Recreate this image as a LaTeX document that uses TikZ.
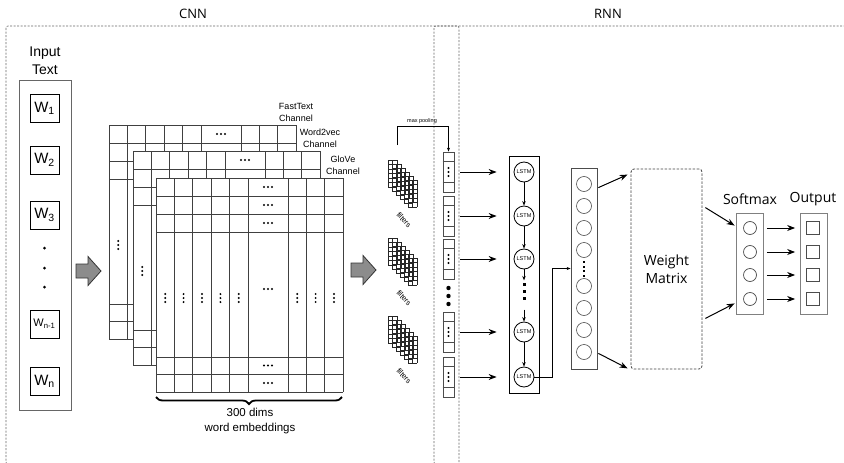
\documentclass[tikz,border=0pt]{standalone}
\usepackage{fontspec}
\setmainfont{Liberation Sans}
\newfontfamily\myriad{Open Sans}
\usetikzlibrary{positioning,arrows.meta,calc,decorations.pathreplacing}
\newcommand{\fs}[2][]{\fontsize{#2}{#2}\selectfont}
% gray block arrow: tail x, centre y
\newcommand{\blockarrow}[2]{\filldraw[draw=black!80,fill=black!45,line width=0.8pt]
  (#1,#2-7) -- ++(12,0) -- ++(0,-7.5) -- ++(13,14.5) -- ++(-13,14.5) -- ++(0,-7.5) -- ++(-12,0) -- cycle;}
\tikzset{
  frame/.style={draw=black!60,dash pattern=on 2pt off 1.5pt,line width=0.6pt,rounded corners=2pt},
  conn/.style={-{Stealth[length=8pt,width=6pt]},line width=1pt},
  sconn/.style={-{Stealth[length=4.5pt,width=3.5pt]},line width=0.7pt},
  hdots/.pic={\foreach \k in {-4,0,4} \fill (\k,0) circle (1.1);},
  vdots/.pic={\foreach \k in {-4,0,4} \fill (0,\k) circle (1.1);},
}

\begin{document}
\begin{tikzpicture}[x=1pt,y=-1pt,
   word/.style={draw,line width=0.8pt,minimum width=29pt,minimum height=28pt,inner sep=0pt},
   grd/.style={draw=black!75,line width=0.8pt},
   fgrid/.style={draw=black!85,line width=0.7pt},
   col/.style={draw=black!70,line width=0.8pt,inner sep=0pt},
   lstm/.style={draw,circle,line width=0.8pt,minimum size=20pt,inner sep=0pt,font=\fs{5.5}},
   unit/.style={draw=black!70,circle,line width=0.6pt,minimum size=15pt,inner sep=0pt},
   chl/.style={align=center,font=\fontsize{9}{12}\selectfont},
   flbl/.style={rotate=-48,font=\fs{7.5},inner sep=0pt},
   lbl/.style={font=\fs{13}\myriad}]
  \useasboundingbox (0,0) rectangle (844,463);
  % frames
  \draw[frame] (6,26) rectangle (459,464);
  \draw[frame] (434,26) rectangle (850,464);
  \node[lbl] (cnn) at (193,14) {CNN};
  \node[lbl] (rnn) at (608,14) {RNN};

  % input text
  \node[align=center,font=\fontsize{14}{18}\selectfont] (intxt) at (45,61) {Input\\Text};
  \node[draw=black!60,line width=0.8pt,minimum width=52pt,minimum height=330pt] (inbox) at (45,245) {};
  \foreach \i/\y/\t in {1/108/{W\textsubscript{1}},2/160/{W\textsubscript{2}},3/215/{W\textsubscript{3}},n/381/{W\textsubscript{n}}}
    \node[word,font=\fs{15}] (w\i) at (44.5,\y) {\t};
  \node[word,font=\fs{11}] (wm1) at (44.5,324) {W\textsubscript{n-1}};
  \foreach \y in {248,268,287} \fill (44.5,\y) circle (1.5);
  \blockarrow{76}{271}

  % embedding channels
  \foreach \L/\ox/\oy in {1/109/125,2/133/151,3/156/178}{
    \begin{scope}[shift={(\ox,\oy)}]
      \fill[white] (0,0) rectangle (187,214);
      \foreach \x in {0,18.4,36.8,55.2,73.6,92,132,150.4,168.8,187} \draw[grd] (\x,0) -- (\x,214);
      \foreach \y in {0,18,36,54,179,196.5,214} \draw[grd] (0,\y) -- (187,\y);
      \pic at (112,9) {hdots};
      \pic at (9.2,120) {vdots};
    \end{scope}
  }
  \begin{scope}[shift={(156,178)}]
    \foreach \y in {27,45,111,187.5,205} \pic at (112,\y) {hdots};
    \foreach \x in {27.6,46,64.4,82.8,141.2,159.6,178} \pic at (\x,120) {vdots};
  \end{scope}
  \node[chl] (ft) at (296,112) {FastText\\Channel};
  \node[chl] (w2v) at (320,138) {Word2vec\\Channel};
  \node[chl] (glv) at (343,165) {GloVe\\Channel};
  \draw[line width=1.8pt,decorate,decoration={brace,mirror,amplitude=7pt}] (156,397) -- (342,397);
  \node[align=center,font=\fontsize{11.5}{15}\selectfont] (dims) at (250,421) {300 dims\\word embeddings};
  \blockarrow{351}{270}

  % filters
  \foreach \g/\gy in {1/160,2/238,3/316}{
    \foreach \k in {0,...,5}{
      \foreach \c in {0,4.5,9} \draw[fgrid] (388+\k*4+\c,\gy+\k*4) -- ++(0,27);
      \foreach \r in {0,4.5,...,27} \draw[fgrid] (388+\k*4,\gy+\k*4+\r) -- ++(9,0);
    }
    \node[flbl] (f\g) at (404,\gy+60) {filters};
  }

  % pooled vectors
  \foreach \i/\y in {1/172,2/216,3/259,4/332,5/377}{
    \node[col,minimum width=11pt,minimum height=40pt] (v\i) at (448.5,\y) {};
    \draw[col] ($(v\i.north west)+(0,10)$) -- ++(11,0);
    \draw[col] ($(v\i.south west)+(0,-10)$) -- ++(11,0);
    \pic at (v\i) {vdots};
  }
  \foreach \y in {288,296,304} \fill (448.5,\y) circle (2.2);
  \coordinate (mp) at (397,145);
  \draw[-{Stealth[length=4pt,width=3pt]},line width=0.6pt] (mp) -- ++(0,-19) -| (v1.north);
  \node[font=\fs{5.5}] (mpl) at (422,121) {max pooling};

  % LSTM
  \node[draw,line width=0.9pt,minimum width=30pt,minimum height=237pt,inner sep=0pt] (lbox) at (524,274.5) {};
  \foreach \i/\y in {1/172,2/216,3/259,4/332,5/377}{
    \node[lstm] (l\i) at (524,\y) {LSTM};
    \draw[conn,shorten <=6pt,shorten >=17pt] (v\i.east) -- (l\i.west);
  }
  \draw[sconn] (l1) -- (l2);
  \draw[sconn] (l2) -- (l3);
  \draw[sconn] (l3.south) -- ++(0,11);
  \foreach \y in {283,290,297} \fill (522.5,\y) rectangle ++(3,3);
  \draw[sconn] ($(l4.north)+(0,-12)$) -- (l4.north);
  \draw[sconn] (l4) -- (l5);

  % hidden layer
  \node[col,minimum width=26pt,minimum height=201pt] (h) at (584,268.5) {};
  \foreach \i/\y in {1/184,2/206,3/228,4/250,5/286,6/308,7/330,8/352}
    \node[unit] (h\i) at (584,\y) {};
  \foreach \y in {261,265.5,270,274.5} \fill (582.8,\y) rectangle ++(2.4,2.4);
  \draw[-{Stealth[length=4pt,width=3pt]},line width=0.5pt] (l5.east) -- ++(18,0) |- (h.west);

  % weight matrix
  \node[draw=black!75,dash pattern=on 2.5pt off 1.5pt,line width=0.8pt,rounded corners=3pt,
    minimum width=71pt,minimum height=200pt,align=center,font=\fontsize{14}{18}\selectfont\myriad] (wm) at (666.5,269) {Weight\\Matrix};
  \draw[conn] ($(h.north east)+(1,20)$) -- ($(wm.north west)+(-3,6)$);
  \draw[conn] ($(h.south east)+(1,-16)$) -- ($(wm.south west)+(-3,-1)$);

  % softmax and output
  \node[draw=black!50,line width=0.8pt,minimum width=27pt,minimum height=101pt] (sm) at (749.5,263.5) {};
  \node[draw=black!50,line width=0.8pt,minimum width=27pt,minimum height=101pt] (out) at (813.5,263.5) {};
  \node[lbl,font=\fs{14}\myriad] (smlbl) at (750,199) {Softmax};
  \node[lbl,font=\fs{14}\myriad] (outlbl) at (813,199) {Output};
  \draw[conn] ($(wm.north east)+(3,39)$) -- ($(sm.north west)+(-1,13)$);
  \draw[conn] ($(wm.south east)+(3,-51)$) -- ($(sm.south west)+(-1,-11)$);
  \foreach \i/\y in {1/228,2/252,3/275,4/299}{
    \node[draw=black!70,circle,line width=0.7pt,minimum size=13pt,inner sep=0pt] (s\i) at (750,\y) {};
    \node[draw=black!70,line width=0.7pt,minimum size=13pt,inner sep=0pt] (o\i) at (813,\y) {};
    \draw[conn,shorten <=10pt,shorten >=11pt] (s\i.east) -- (o\i.west);
  }
\end{tikzpicture}
\end{document}
